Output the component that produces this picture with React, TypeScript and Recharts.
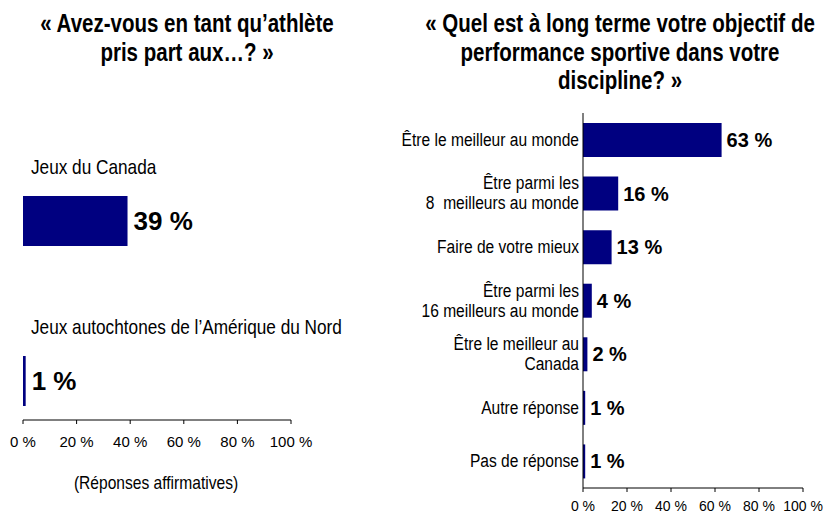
import React from 'react';
import { BarChart, Bar, XAxis, YAxis, LabelList } from 'recharts';

// left panel: "Avez-vous ... pris part aux...?"
const leftCategories = ['Jeux du Canada', 'Jeux autochtones de l’Amérique du Nord'];
const leftValues = [39, 1];

// right panel: long term objective
const rightCategories = [
  'Être le meilleur au monde',
  'Être parmi les\n8  meilleurs au monde',
  'Faire de votre mieux',
  'Être parmi les\n16 meilleurs au monde',
  'Être le meilleur au\nCanada',
  'Autre réponse',
  'Pas de réponse',
];
const rightValues = [63, 16, 13, 4, 2, 1, 1];

const percentTicks = [0, 20, 40, 60, 80, 100];

const leftData = leftCategories.map((name, i) => ({ name, value: leftValues[i] }));
const rightData = rightCategories.map((name, i) => ({ name, value: rightValues[i] }));

const NAVY = '#000080';
const arial = "'Liberation Sans', Arial, sans-serif";
// no narrow face installed: squeeze Arial like Arial Narrow
const SQUEEZE = 0.82;

// the bars of the left panel sit low in their band, the label goes above
const LEFT_SHIFT = 41;

const ShiftedBar = (props: any) => {
  const { x, y, width, height, fill } = props;
  return <rect x={x} y={y + LEFT_SHIFT} width={width} height={height} fill={fill} />;
};

const NarrowText = ({ x, y, size, anchor = 'start', children }: any) => (
  <text
    transform={`translate(${x} ${y}) scale(${SQUEEZE} 1)`}
    textAnchor={anchor}
    fontFamily={arial}
    fontSize={size}
    fill="#000"
    style={{ whiteSpace: 'pre' }}
  >
    {children}
  </text>
);

const LeftValueLabel = (props: any) => {
  const { x, y, width, height, value } = props;
  return (
    <text x={x + width + 6} y={y + LEFT_SHIFT + height / 2 + 9} fontFamily={arial} fontWeight="bold" fontSize={26} fill="#000">
      {value} %
    </text>
  );
};

const LeftNameLabel = (props: any) => {
  const { x, y, value } = props;
  return (
    <NarrowText x={x + 8} y={y + LEFT_SHIFT - 29 + 7} size={21}>
      {value}
    </NarrowText>
  );
};

const RightValueLabel = (props: any) => {
  const { x, y, width, height, value } = props;
  return (
    <text x={x + width + 5} y={y + height / 2 + 7} fontFamily={arial} fontWeight="bold" fontSize={20} fill="#000">
      {value} %
    </text>
  );
};

const RightTick = (props: any) => {
  const { x, y, payload } = props;
  const lines = String(payload.value).split('\n');
  const lh = 20;
  return (
    <g>
      {lines.map((l, i) => (
        <NarrowText key={i} x={x} y={y + (i - (lines.length - 1) / 2) * lh + 6} size={19} anchor="end">
          {l}
        </NarrowText>
      ))}
    </g>
  );
};

const titleStyle: React.CSSProperties = {
  position: 'absolute',
  top: 9,
  fontFamily: arial,
  fontWeight: 'bold',
  fontSize: 25,
  lineHeight: '28.5px',
  textAlign: 'center',
  whiteSpace: 'nowrap',
  transform: `translateX(-50%) scaleX(${SQUEEZE})`,
};

const App: React.FC = () => {
  return (
    <div style={{ position: 'absolute', left: 0, top: 0, width: 825, height: 514, background: '#fff' }}>
      <div style={{ ...titleStyle, left: 187 }}>
        « Avez-vous en tant qu’athlète
        <br />
        pris part aux…? »
      </div>
      <div style={{ ...titleStyle, left: 620 }}>
        « Quel est à long terme votre objectif de
        <br />
        performance sportive dans votre
        <br />
        discipline? »
      </div>

      <div style={{ position: 'absolute', left: 0, top: 0 }}>
        <BarChart width={825} height={514} data={leftData} layout="vertical" margin={{ top: 100, right: 534, bottom: 54, left: 23 }}>
          <XAxis
            type="number"
            domain={[0, 100]}
            ticks={percentTicks}
            tickFormatter={(v) => `${v} %`}
            height={40}
            tickSize={4}
            tickMargin={12}
            stroke="#000"
            tick={{ fill: '#000', fontSize: 15, fontFamily: arial }}
            interval={0}
          />
          <YAxis type="category" dataKey="name" width={0} tick={false} tickLine={false} stroke="#000" />
          <Bar dataKey="value" fill={NAVY} barSize={50} shape={ShiftedBar} isAnimationActive={false}>
            <LabelList dataKey="value" content={LeftValueLabel} />
            <LabelList dataKey="name" content={LeftNameLabel} />
          </Bar>
        </BarChart>
      </div>
      <div
        style={{
          position: 'absolute',
          left: 156,
          top: 472,
          transform: `translateX(-50%) scaleX(${SQUEEZE})`,
          fontFamily: arial,
          fontSize: 19,
          whiteSpace: 'nowrap',
        }}
      >
        (Réponses affirmatives)
      </div>

      <div style={{ position: 'absolute', left: 0, top: 0 }}>
        <BarChart width={825} height={514} data={rightData} layout="vertical" margin={{ top: 113, right: 22, bottom: 4, left: 380 }}>
          <XAxis
            type="number"
            domain={[0, 100]}
            ticks={percentTicks}
            tickFormatter={(v) => `${v} %`}
            height={22}
            tickSize={4}
            tickMargin={9}
            stroke="#000"
            tick={{ fill: '#000', fontSize: 14, fontFamily: arial }}
            interval={0}
          />
          <YAxis type="category" dataKey="name" width={203} tick={RightTick} tickLine={false} tickSize={0} tickMargin={4} stroke="#000" interval={0} />
          <Bar dataKey="value" fill={NAVY} barSize={34} isAnimationActive={false}>
            <LabelList dataKey="value" content={RightValueLabel} />
          </Bar>
        </BarChart>
      </div>
    </div>
  );
};

export default App;
